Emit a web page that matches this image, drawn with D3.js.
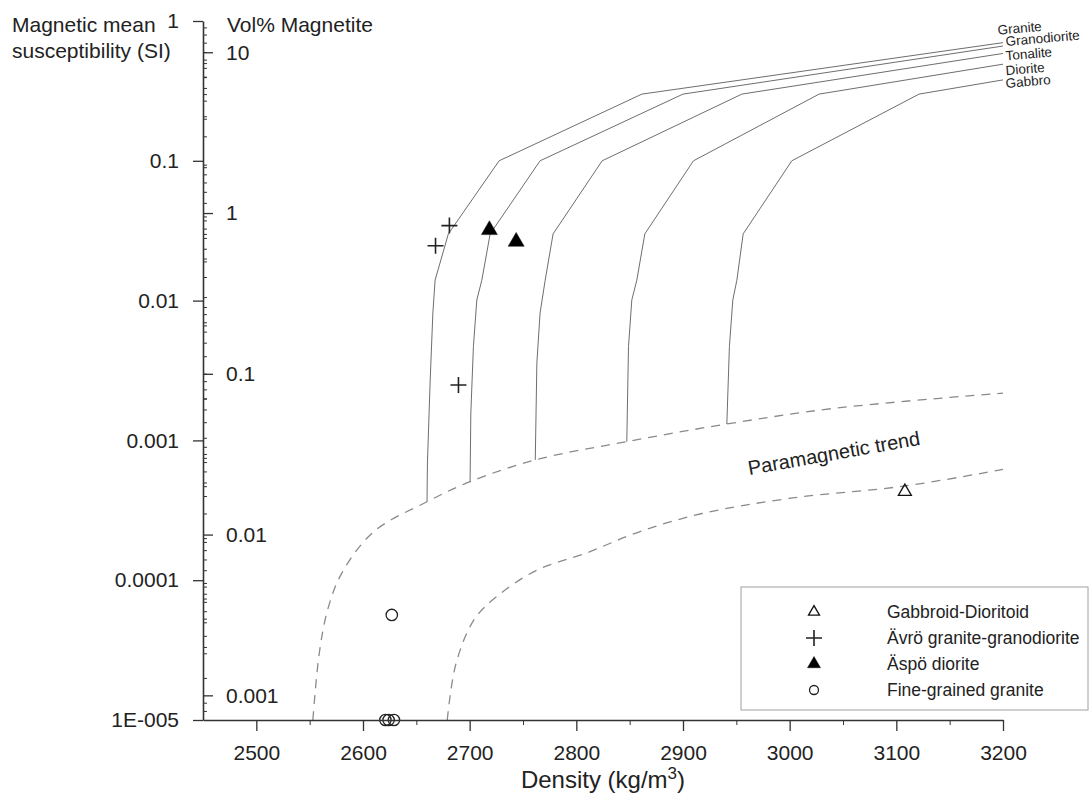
<!DOCTYPE html>
<html>
<head>
<meta charset="utf-8">
<script src="https://cdn.jsdelivr.net/npm/d3@7"></script>
<style>
  body { margin: 0; background: #fff; }
  svg text { font-family: "Liberation Sans", Arial, sans-serif; fill: #222; }
</style>
</head>
<body>
<div id="chart"></div>
<script>
// ---- data ----
const densityTicks = [2500, 2600, 2700, 2800, 2900, 3000, 3100, 3200];
const densityMinorTicks = [2550, 2650, 2750, 2850, 2950, 3050, 3150];
const siTicks = [1, 0.1, 0.01, 0.001, 0.0001, 0.00001];
const siTickLabels = ["1", "0.1", "0.01", "0.001", "0.0001", "1E-005"];
const volTicks = [10, 1, 0.1, 0.01, 0.001];
const volTickLabels = ["10", "1", "0.1", "0.01", "0.001"];

// susceptibility = magA * (vol% magnetite)^magB
const magA = 0.0423;
const magB = 1.15;

// rock + magnetite mixing curves [density, susceptibility]
const rockNames = ["Granite", "Granodiorite", "Tonalite", "Diorite", "Gabbro"];
const granite = [[2660, 0.000364], [2660.4, 0.00069], [2663, 0.0027], [2665.5, 0.00815],
  [2667.6, 0.014], [2680, 0.03], [2727.6, 0.1], [2861.5, 0.3], [3200, 0.70]];
const granodiorite = [[2700.4, 0.000507], [2701.1, 0.00157], [2703.5, 0.00468], [2706.7, 0.0101],
  [2711.4, 0.014], [2719.2, 0.03], [2766, 0.1], [2900, 0.3], [3200, 0.662]];
const tonalite = [[2761.5, 0.000725], [2763, 0.00358], [2766, 0.00815], [2770.8, 0.014],
  [2778.2, 0.03], [2824.2, 0.1], [2955.2, 0.3], [3200, 0.586]];
const diorite = [[2847.3, 0.00098], [2848.9, 0.00468], [2852, 0.0101], [2856.7, 0.014],
  [2864.2, 0.03], [2909.8, 0.1], [3027.6, 0.3], [3200, 0.491]];
const gabbro = [[2941.1, 0.00131], [2943.5, 0.00468], [2946.7, 0.0101], [2950.5, 0.014],
  [2956.4, 0.03], [3002, 0.1], [3121.3, 0.3], [3200, 0.379]];
const rockCurves = [granite, granodiorite, tonalite, diorite, gabbro];

// paramagnetic trend lines
const paraUpper = [[2553, 0.00001], [2559, 0.00003], [2567, 0.000062], [2580, 0.000112],
  [2610, 0.000222], [2660, 0.000364], [2700.4, 0.000507], [2761.5, 0.000725], [2847.3, 0.00098],
  [2941.1, 0.00131], [3043, 0.0017], [3200, 0.00218]];
const paraLower = [[2679, 0.00001], [2687, 0.000025], [2704, 0.000052], [2725, 0.000076],
  [2763, 0.000118], [2809, 0.000156], [2859, 0.000222], [2918, 0.0003], [3001, 0.000386],
  [3108, 0.000472], [3200, 0.00062]];
const paraLabel = "Paramagnetic trend";
const paraLabelAt = [2962, 0.000565];

// samples
const legendNames = ["Gabbroid-Dioritoid", "Ävrö granite-granodiorite", "Äspö diorite", "Fine-grained granite"];
const gabbroidDioritoid = [[3108, 0.00043]];
const avroGranite = [[2668, 0.0247], [2681, 0.0344], [2689.5, 0.00249]];
const aspoDiorite = [[2718.5, 0.032], [2743.6, 0.0264]];
const fineGrainedGranite = [[2627, 0.0000564], [2621, 0.00001], [2624, 0.00001], [2629, 0.00001]];

// ---- layout ----
const width = 1091,
  height = 801,
  marginLeft = 203,
  marginRight = 88,
  marginTop = 21,
  marginBottom = 81,
  fontSize = 21,
  lineColor = "#6e6e6e",
  dashColor = "#8a8a8a",
  axisColor = "#333";

const x = d3.scaleLinear([2450, 3200], [marginLeft, width - marginRight]);
const y = d3.scaleLog([0.00001, 1], [height - marginBottom, marginTop]);
const siToVol = (k) => Math.pow(k / magA, 1 / magB);
const yVol = d3.scaleLog([siToVol(0.00001), siToVol(1)], [height - marginBottom, marginTop]);

const svg = d3
  .select("#chart")
  .append("svg")
  .attr("width", width)
  .attr("height", height)
  .attr("viewBox", [0, 0, width, height]);

// paramagnetic trends
const paraLine = d3
  .line((d) => x(d[0]), (d) => y(d[1]))
  .curve(d3.curveCatmullRom.alpha(0.5));

svg
  .append("g")
  .selectAll("path")
  .data([paraUpper, paraLower])
  .join("path")
  .attr("d", paraLine)
  .attr("fill", "none")
  .attr("stroke", dashColor)
  .attr("stroke-width", 1.3)
  .attr("stroke-dasharray", "9,7");

svg
  .append("text")
  .attr("transform", `translate(${x(paraLabelAt[0])},${y(paraLabelAt[1])}) rotate(-10)`)
  .attr("font-size", 20)
  .text(paraLabel);

// rock curves
const rockLine = d3.line((d) => x(d[0]), (d) => y(d[1]));
svg
  .append("g")
  .selectAll("path")
  .data(rockCurves)
  .join("path")
  .attr("d", rockLine)
  .attr("fill", "none")
  .attr("stroke", lineColor)
  .attr("stroke-width", 1);

// rock labels at the end of each curve
const labelDx = [-5, 3, 3, 3, 3];
const labelDy = [-8, 0, 7, 11, 8];
svg
  .append("g")
  .selectAll("text")
  .data(rockCurves)
  .join("text")
  .attr("transform", (d, i) => {
    const end = d[d.length - 1];
    return `translate(${x(end[0]) + labelDx[i]},${y(end[1]) + labelDy[i]}) rotate(-5)`;
  })
  .attr("font-size", 13.5)
  .attr("fill", "#444")
  .text((d, i) => rockNames[i]);

// markers
function marker(sel, type, s) {
  if (type === "plus") {
    sel.append("path")
      .attr("d", `M${-s},0H${s}M0,${-s}V${s}`)
      .attr("stroke", "#222")
      .attr("stroke-width", 1.6)
      .attr("fill", "none");
  } else if (type === "circle") {
    sel.append("circle")
      .attr("r", s)
      .attr("fill", "none")
      .attr("stroke", "#222")
      .attr("stroke-width", 1.3);
  } else {
    sel.append("path")
      .attr("d", d3.symbol(d3.symbolTriangle, 0.433 * s * s))
      .attr("fill", type === "triFilled" ? "#000" : "none")
      .attr("stroke", "#111")
      .attr("stroke-width", type === "triFilled" ? 0.5 : 1.3);
  }
}

const sampleSets = [gabbroidDioritoid, avroGranite, aspoDiorite, fineGrainedGranite];
const markerTypes = ["triOpen", "plus", "triFilled", "circle"];
const markerSizes = [13, 8, 16, 5.7];
const legendSizes = [11, 8, 13, 4.5];

sampleSets.forEach((set, j) => {
  svg
    .append("g")
    .selectAll("g")
    .data(set)
    .join("g")
    .attr("transform", (d) => `translate(${x(d[0])},${y(d[1])})`)
    .each(function () {
      marker(d3.select(this), markerTypes[j], markerSizes[j]);
    });
});

// axes
const axisG = svg.append("g").attr("color", axisColor);

// x axis
axisG
  .append("g")
  .attr("transform", `translate(0,${height - marginBottom})`)
  .call(d3.axisBottom(x).tickValues(densityMinorTicks).tickSize(5).tickFormat(""))
  .call((g) => g.select(".domain").remove());

axisG
  .append("g")
  .attr("transform", `translate(0,${height - marginBottom})`)
  .call(
    d3.axisBottom(x)
      .tickValues(densityTicks)
      .tickFormat(d3.format("d"))
      .tickSize(11)
      .tickSizeOuter(0)
      .tickPadding(14)
  )
  .call((g) => g.select(".domain").attr("stroke-width", 1.6))
  .call((g) => g.selectAll(".tick line").attr("stroke-width", 1.3))
  .call((g) => g.selectAll(".tick text").attr("font-size", fontSize).attr("fill", "#222"));

// minor ticks on the left axis (both scales)
const isMinor = (d) => Math.abs(Math.log10(d) - Math.round(Math.log10(d))) > 1e-6;
const siMinor = y.ticks().filter(isMinor);
const volMinor = yVol.ticks().filter(isMinor);

axisG
  .append("g")
  .attr("transform", `translate(${marginLeft},0)`)
  .call(d3.axisRight(y).tickValues(siMinor).tickSize(4).tickFormat(""))
  .call((g) => g.select(".domain").remove());

axisG
  .append("g")
  .attr("transform", `translate(${marginLeft},0)`)
  .call(d3.axisRight(yVol).tickValues(volMinor).tickSize(4).tickFormat(""))
  .call((g) => g.select(".domain").remove());

// susceptibility axis
axisG
  .append("g")
  .attr("transform", `translate(${marginLeft},0)`)
  .call(
    d3.axisLeft(y)
      .tickValues(siTicks)
      .tickFormat((d, i) => siTickLabels[i])
      .tickSize(10)
      .tickSizeOuter(0)
      .tickPadding(14)
  )
  .call((g) => g.select(".domain").attr("stroke-width", 1.6))
  .call((g) => g.selectAll(".tick line").attr("stroke-width", 1.3))
  .call((g) => g.selectAll(".tick text").attr("font-size", fontSize).attr("fill", "#222"));

// vol% magnetite axis
axisG
  .append("g")
  .attr("transform", `translate(${marginLeft},0)`)
  .call(
    d3.axisRight(yVol)
      .tickValues(volTicks)
      .tickFormat((d, i) => volTickLabels[i])
      .tickSize(10)
      .tickPadding(13)
  )
  .call((g) => g.select(".domain").remove())
  .call((g) => g.selectAll(".tick line").attr("stroke-width", 1.3))
  .call((g) => g.selectAll(".tick text").attr("font-size", fontSize).attr("fill", "#222"));

// axis titles
const yTitle = svg.append("text").attr("font-size", fontSize);
yTitle.append("tspan").attr("x", 12).attr("y", 32).text("Magnetic mean");
yTitle.append("tspan").attr("x", 12).attr("y", 58).text("susceptibility (SI)");

svg
  .append("text")
  .attr("x", marginLeft + 24)
  .attr("y", 32)
  .attr("font-size", fontSize)
  .text("Vol% Magnetite");

const xTitle = svg
  .append("text")
  .attr("x", (x.range()[0] + x.range()[1]) / 2)
  .attr("y", 788)
  .attr("text-anchor", "middle")
  .attr("font-size", 24);
xTitle.append("tspan").text("Density (kg/m");
xTitle.append("tspan").attr("font-size", 17).attr("dy", -9).text("3");
xTitle.append("tspan").attr("dy", 9).text(")");

// legend
const legend = svg.append("g");
legend
  .append("rect")
  .attr("x", 741)
  .attr("y", 587)
  .attr("width", 347)
  .attr("height", 123)
  .attr("fill", "#fff")
  .attr("stroke", "#a0a0a0")
  .attr("stroke-width", 1);

const rows = legend
  .selectAll("g")
  .data(legendNames)
  .join("g")
  .attr("transform", (d, i) => `translate(814,${612 + i * 26})`);

rows.each(function (d, i) {
  marker(d3.select(this), markerTypes[i], legendSizes[i]);
});

rows
  .append("text")
  .attr("x", 73)
  .attr("dy", "0.36em")
  .attr("font-size", 17.5)
  .text((d) => d);
</script>
</body>
</html>
